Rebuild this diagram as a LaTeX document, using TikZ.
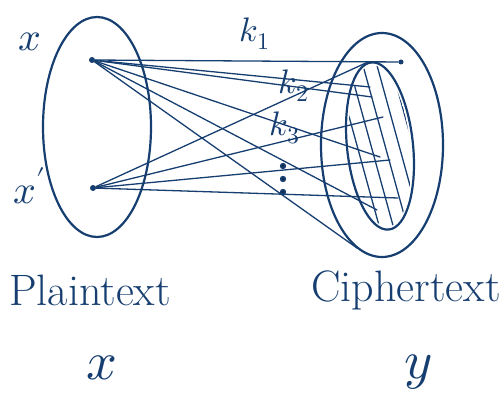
\documentclass[tikz,border=0pt]{standalone}
\usepackage{fontspec}
\usepackage{unicode-math}
\usepackage{tikz}
\usetikzlibrary{calc,positioning}

\definecolor{ink}{RGB}{22,62,112}

\begin{document}
\begin{tikzpicture}[x=1pt,y=-1pt,line cap=round,
  ink/.style={draw=ink,line width=2.2pt},
  keyline/.style={draw=ink,line width=1.3pt},
  dot/.style={circle,fill=ink,inner sep=0pt,minimum size=6pt},
  lab/.style={text=ink,font=\fontsize{40}{44}\selectfont},
  big/.style={text=ink,font=\fontsize{44}{50}\selectfont}]
\useasboundingbox (0,0) rectangle (504,414);
% sets
\draw[ink] (97,127) ellipse [x radius=54,y radius=110];
\draw[ink] (382,145) ellipse [x radius=61,y radius=112];
\draw[ink,rotate around={6:(380,146)}] (380,146) ellipse [x radius=33,y radius=84];
\begin{scope}
  \clip[rotate around={6:(380,146)}] (380,146) ellipse [x radius=30,y radius=81];
  \foreach \s in {300,314,...,440}
    \draw[keyline] (\s,40) -- ++(55,200);
\end{scope}
% points
\node[dot] (x) at (92,60) {};
\node[dot] (xp) at (93,188) {};
\node[lab] (lx) at (30,42) {$x$};
\node[lab] (lxp) at (30,186) {$x'$};
\node[dot,minimum size=5pt] (y1) at (401,62) {};
\coordinate (y2) at (370,87);
\coordinate (y3) at (372,97);
\coordinate (y4) at (380,157);
\coordinate (y5) at (377,210);
\coordinate (y6) at (357,248);
\coordinate (z1) at (368,62);
\coordinate (z2) at (383,117);
\coordinate (z3) at (390,160);
\coordinate (z4) at (398,198);
% keys
\path[keyline] (x) edge (y1) edge (y2) edge (y3) edge (y4) edge (y5) edge (y6);
\path[keyline] (xp) edge (z1) edge (z2) edge (z3) edge (z4);
\node[lab,font=\fontsize{34}{38}\selectfont] (k1) at (255,34) {$k_1$};
\node[lab,font=\fontsize{34}{38}\selectfont] (k2) at (294,86) {$k_2$};
\node[lab,font=\fontsize{34}{38}\selectfont] (k3) at (285,128) {$k_3$};
\foreach \d in {166,179,192}
  \fill[ink] (283,\d) circle [radius=2pt];
% names
\node[big] (pt) at (90,290) {Plaintext};
\node[big] (ct) at (406,290) {Ciphertext};
\node[lab,font=\fontsize{54}{58}\selectfont] (sx) at (102,368) {$x$};
\node[lab,font=\fontsize{54}{58}\selectfont] (sy) at (418,372) {$y$};
\end{tikzpicture}
\end{document}
